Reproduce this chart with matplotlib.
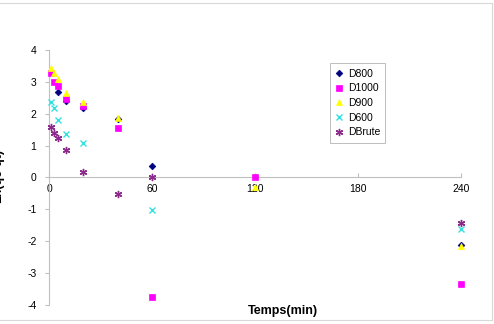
import matplotlib
matplotlib.use("Agg")
import matplotlib.pyplot as plt
from matplotlib.lines import Line2D

# Data (time in min, value)
t_d800 = [5, 10, 20, 40, 60, 240]
v_d800 = [2.67, 2.40, 2.19, 1.84, 0.36, -2.12]

t_d1000 = [1, 3, 5, 10, 20, 40, 60, 120, 240]
v_d1000 = [3.29, 3.01, 2.88, 2.46, 2.24, 1.56, -3.74, 0.0, -3.34]

t_d900 = [1, 3, 5, 10, 20, 40, 120, 240]
v_d900 = [3.45, 3.27, 3.08, 2.66, 2.38, 1.86, -0.30, -2.14]

t_d600 = [1, 3, 5, 10, 20, 60, 240]
v_d600 = [2.38, 2.19, 1.80, 1.38, 1.09, -1.03, -1.60]

t_dbrute = [1, 3, 5, 10, 20, 40, 60, 240]
v_dbrute = [1.57, 1.40, 1.25, 0.85, 0.17, -0.52, 0.0, -1.43]

series_names = ["D800", "D1000", "D900", "D600", "DBrute"]
x_ticks = [0, 60, 120, 180, 240]
y_ticks = [-4, -3, -2, -1, 0, 1, 2, 3, 4]

plt.rcParams['font.family'] = ['Liberation Sans', 'DejaVu Sans']

fig = plt.figure(figsize=(4.94, 3.24), dpi=100)
ax = fig.add_axes([49/494, 19/324, (461-49)/494, (305-50)/324])

styles = [
    dict(marker='D', color='#000080', ms=3.4, mec='#000080', mew=0.5),
    dict(marker='s', color='#FF00FF', ms=4.0, mec='#FF00FF', mew=0.5),
    dict(marker='^', color='#FFFF00', ms=4.8, mec='#FFFF00', mew=0.5),
    dict(marker='x', color='#33E0E0', ms=4.8, mec='#33E0E0', mew=1.0),
    dict(marker=(6, 2, 0), color='#8B2A8B', ms=5.2, mec='#8B2A8B', mew=1.0),
]
data = [(t_d800, v_d800), (t_d1000, v_d1000), (t_d900, v_d900),
        (t_d600, v_d600), (t_dbrute, v_dbrute)]

for (t, v), st, name in zip(data, styles, series_names):
    ax.plot(t, v, linestyle='none', label=name, clip_on=False, zorder=3, **st)

ax.set_xlim(0, 240)
ax.set_ylim(-4, 4)

axis_col = '#c0c0c0'
ax.spines['top'].set_visible(False)
ax.spines['right'].set_visible(False)
ax.spines['left'].set_position(('data', 0))
ax.spines['bottom'].set_position(('data', 0))
ax.spines['left'].set_color(axis_col)
ax.spines['bottom'].set_color(axis_col)
ax.spines['left'].set_linewidth(0.8)
ax.spines['bottom'].set_linewidth(0.8)

ax.set_xticks(x_ticks)
ax.set_yticks(y_ticks)
ax.set_xticklabels([str(x) for x in x_ticks])
ax.set_yticklabels([str(y) for y in y_ticks])
ax.tick_params(axis='both', colors=axis_col, labelcolor='black', labelsize=7.5,
               length=3, width=0.8)
ax.tick_params(axis='x', direction='in', pad=5)
ax.tick_params(axis='y', direction='out', pad=6)

ax.patch.set_alpha(0)

fig.text(283/494, 1 - 311/324, 'Temps(min)', ha='center', va='center',
         fontsize=9, fontweight='bold')
fig.text(-0.004, 1 - 176/324, 'Ln(qe-qt)', rotation=90, ha='center', va='center',
         fontsize=9, fontweight='bold')

leg = ax.legend(loc='upper left', bbox_to_anchor=((330-49)/412, (177-63)/255 + 0.5),
                frameon=True, fontsize=7.5, handlelength=0.8, handletextpad=0.4,
                borderpad=0.5, labelspacing=0.45, fancybox=False, borderaxespad=0)
leg.get_frame().set_edgecolor('#a0a0a0')
leg.get_frame().set_linewidth(0.6)

# outer chart border (partially visible)
border = Line2D([-0.1, 492/494, 492/494, -0.1], [1 - 3/324, 1 - 3/324, 1 - 320/324, 1 - 320/324],
                transform=fig.transFigure, color='#d8d8d8', lw=0.8)
fig.add_artist(border)

fig.savefig('out.png', dpi=100)
